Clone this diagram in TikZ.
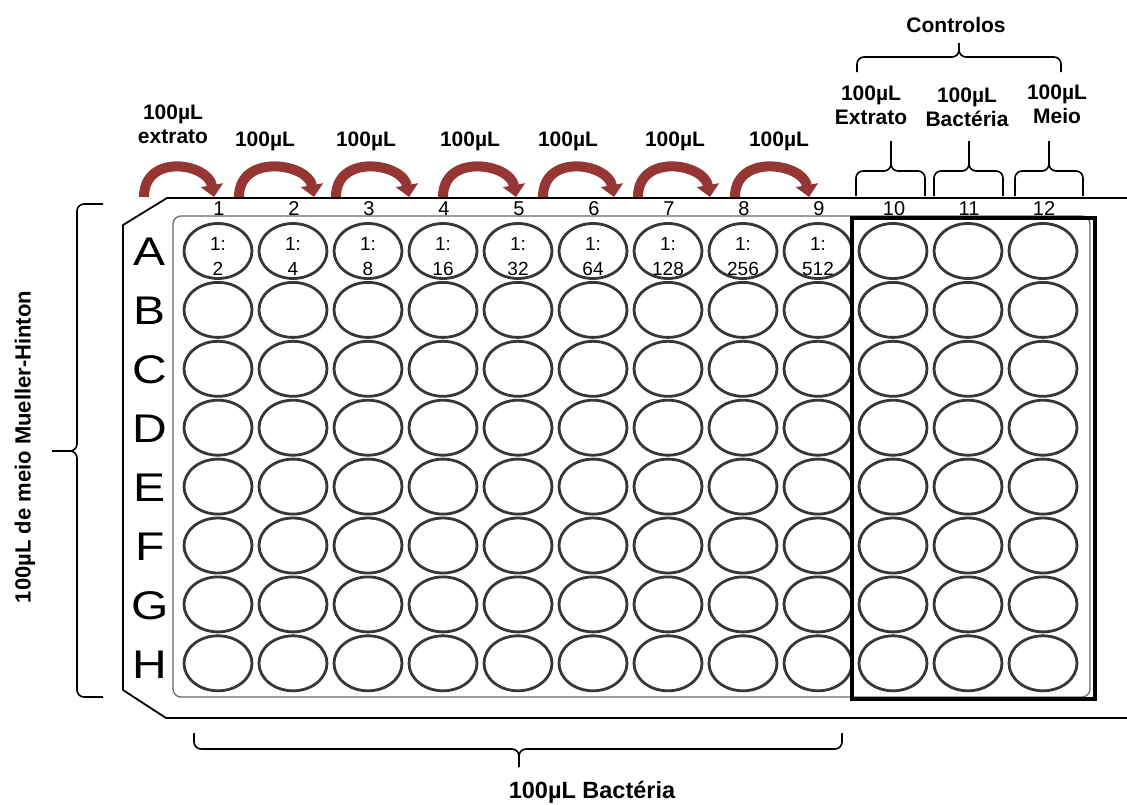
\documentclass[tikz,border=0pt]{standalone}
\usepackage{fontspec}
\setmainfont{Liberation Sans}
\usetikzlibrary{arrows.meta,shapes.geometric}
\definecolor{flowred}{RGB}{150,54,52}
\definecolor{wellink}{RGB}{55,55,55}
\definecolor{rimgray}{RGB}{105,105,105}

% x1, x2, xm, y of ends, y of shoulder, y of tip
\newcommand\hbrace[6]{%
  \draw[brc] (#1,#4) -- (#1,#5) -- (#3,#5) -- (#3,#6);
  \draw[brc] (#2,#4) -- (#2,#5) -- (#3,#5) -- (#3,#6);}

\begin{document}
\begin{tikzpicture}[x=1pt,y=-1pt,
  well/.style={ellipse,draw=wellink,line width=2.8pt,minimum width=68pt,minimum height=55pt,inner sep=0pt},
  rowlab/.style={font=\fontsize{40}{40}\selectfont,xscale=1.2,inner sep=0pt},
  colnum/.style={font=\fontsize{20}{20}\selectfont,inner sep=0pt},
  dil/.style={font=\fontsize{19}{19}\selectfont,inner sep=0pt,anchor=base},
  lab/.style={font=\bfseries\fontsize{21}{24}\selectfont,align=center,inner sep=0pt},
  flow/.style={-{Triangle[length=12pt,width=22pt]},line width=10pt,flowred},
  brc/.style={line width=1.6pt,rounded corners=7pt},
  plate/.style={line width=1.8pt,line join=round}]
\useasboundingbox (0,0) rectangle (1127,804);

% plate
\draw[plate] (1127,198) -- (167,198) -- (123,225) -- (123,690) -- (166,718) -- (1127,718);
\draw[rimgray,line width=1.3pt,rounded corners=8pt] (173,216) rectangle (1090,697);

% dilutions in row A
\foreach \d [count=\c] in {2,4,8,16,32,64,128,256,512} {
  \begin{scope}
    \clip (218+75*\c-75,251) ellipse [x radius=34pt,y radius=27.5pt];
    \node[dil] (dt\c) at (218+75*\c-75,250) {1:};
    \node[dil] (db\c) at (218+75*\c-75,275) {\d};
  \end{scope}
}

% wells
\foreach \r [count=\ri from 0] in {A,B,C,D,E,F,G,H} {
  \node[rowlab] (row\r) at (150,252+58.9*\ri) {\r};
  \foreach \c in {1,...,12}
    \node[well] (w\r\c) at (218+75*\c-75,251+58.9*\ri) {};
}
\foreach \c in {1,...,12}
  \node[colnum] (col\c) at (219+75*\c-75,209) {\c};

% controls
\draw[line width=4.5pt] (852,218) rectangle (1095,699);

% transfer arrows
\foreach \s/\e [count=\i] in {144/214,239/314,336/409,443/516,543/614,638/710,735/809} {
  \coordinate (fs\i) at (\s,197);
  \coordinate (fe\i) at (\e,197);
  \draw[flow] (fs\i) .. controls +(0,-44) and +(-6,-34) .. (fe\i);
}

% labels
\node[lab] (lext) at (173,124) {100µL\\extrato};
\foreach \x [count=\i] in {265,366,470,568,675,779}
  \node[lab] (lvol\i) at (\x,141) {100µL};
\node[lab] (lcext) at (871,105) {100µL\\Extrato};
\node[lab] (lcbac) at (967,107) {100µL\\Bactéria};
\node[lab] (lcmed) at (1057,104) {100µL\\Meio};
\node[lab] (lctrl) at (956,25) {Controlos};
\node[lab,font=\bfseries\fontsize{23.5}{24}\selectfont] (lbac) at (592,792) {100µL Bactéria};
\node[lab,font=\bfseries\fontsize{22}{24}\selectfont,rotate=90] (lmed) at (25,447) {100µL de meio Mueller-Hinton};

% braces
\hbrace{857}{1061}{959}{72}{57}{43}
\hbrace{856}{925}{891}{196}{171}{141}
\hbrace{934}{1003}{969}{196}{171}{141}
\hbrace{1015}{1083}{1049}{196}{171}{141}
\hbrace{194}{842}{519}{733}{749}{767}
\draw[brc] (103,204) -- (77,204) -- (77,451) -- (52,451);
\draw[brc] (103,697) -- (77,697) -- (77,451) -- (52,451);
\end{tikzpicture}
\end{document}
